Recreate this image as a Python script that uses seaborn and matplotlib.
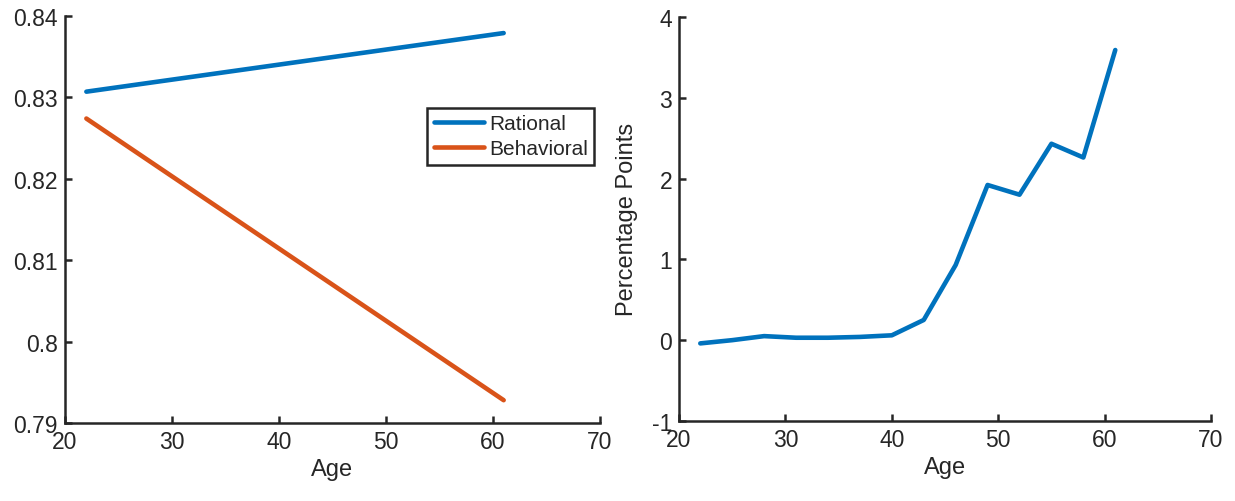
import matplotlib
matplotlib.use("Agg")
import matplotlib.pyplot as plt
import seaborn as sns
import pandas as pd

# Left panel data
ages_left = [22, 61]
rational = [0.8307, 0.8379]
behavioral = [0.8274, 0.7928]

# Right panel data
ages_right = [22, 25, 28, 31, 34, 37, 40, 43, 46, 49, 52, 55, 58, 61]
pct_points = [-0.04, 0.00, 0.05, 0.03, 0.03, 0.04, 0.06, 0.25, 0.93, 1.92, 1.80, 2.43, 2.26, 3.59]

sns.set_theme(style="ticks")
plt.rcParams['font.family'] = ['Liberation Sans', 'DejaVu Sans']
plt.rcParams['axes.unicode_minus'] = False

blue = "#0072BD"
orange = "#D95319"
axcol = "#262626"

fig = plt.figure(figsize=(12.35, 5.02), dpi=100)
ax1 = fig.add_axes([0.0526, 0.1554, 0.4332, 0.8108])
ax2 = fig.add_axes([0.5498, 0.1594, 0.4308, 0.8050])

df_left = pd.DataFrame({
    "Age": ages_left * 2,
    "value": rational + behavioral,
    "series": ["Rational"] * len(ages_left) + ["Behavioral"] * len(ages_left),
})
sns.lineplot(data=df_left, x="Age", y="value", hue="series",
             palette={"Rational": blue, "Behavioral": orange},
             linewidth=3.3, ax=ax1)
ax1.set_xlim(20, 70)
ax1.set_ylim(0.79, 0.84)
ax1.set_xticks([20, 30, 40, 50, 60, 70])
ax1.set_yticks([0.79, 0.8, 0.81, 0.82, 0.83, 0.84])
ax1.set_yticklabels(["0.79", "0.8", "0.81", "0.82", "0.83", "0.84"])
ax1.set_xlabel("Age", fontsize=17, color=axcol, labelpad=4)
ax1.set_ylabel("")
leg = ax1.legend(loc="upper right", bbox_to_anchor=(0.989, 0.774), fontsize=15,
                 frameon=True, fancybox=False, framealpha=1, edgecolor=axcol,
                 handlelength=2.4, handletextpad=0.25, borderpad=0.3, labelspacing=0.3,
                 borderaxespad=0)
leg.get_frame().set_linewidth(1.8)
for l in leg.get_lines():
    l.set_linewidth(3.3)

df_right = pd.DataFrame({"Age": ages_right, "pp": pct_points})
sns.lineplot(data=df_right, x="Age", y="pp", color=blue, linewidth=3.3, ax=ax2)
ax2.set_xlim(20, 70)
ax2.set_ylim(-1, 4)
ax2.set_xticks([20, 30, 40, 50, 60, 70])
ax2.set_yticks([-1, 0, 1, 2, 3, 4])
ax2.set_xlabel("Age", fontsize=17, color=axcol, labelpad=4)
ax2.set_ylabel("Percentage Points", fontsize=17, color=axcol, labelpad=10)

for ax in (ax1, ax2):
    for s in ("top", "right"):
        ax.spines[s].set_visible(False)
    for s in ("left", "bottom"):
        ax.spines[s].set_color(axcol)
        ax.spines[s].set_linewidth(1.8)
    ax.tick_params(axis="both", direction="in", labelsize=16.5, colors=axcol,
                   length=5, width=1.8, pad=5)

fig.savefig("out.png", dpi=100)
